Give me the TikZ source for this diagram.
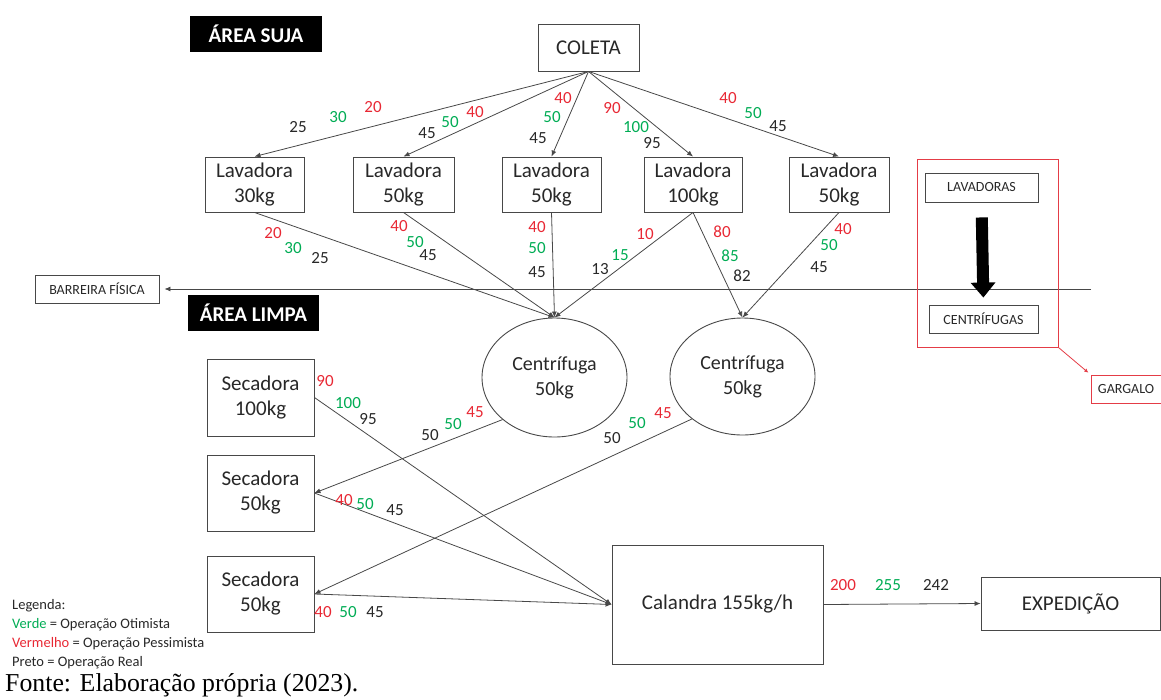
\documentclass[tikz,border=0pt]{standalone}
\usepackage{fontspec}
\setmainfont{Carlito}
\newfontfamily\captionface{Liberation Serif}
\usetikzlibrary{arrows.meta,shapes.geometric,calc}
\definecolor{pess}{RGB}{232,40,52}
\definecolor{otim}{RGB}{0,172,84}
\definecolor{real}{RGB}{40,40,40}
\definecolor{edge}{RGB}{72,72,72}
\definecolor{neck}{RGB}{228,60,70}
% a coloured flow figure placed by name at a fixed point
\newcommand\flowlbl[4]{\node[num,text=#3] (#1) at (#2) {#4};}
\begin{document}
\begin{tikzpicture}[x=1pt,y=-1pt,
  box/.style={draw=edge,line width=0.9pt,rectangle,align=center,
    font=\fontsize{21}{25}\selectfont,text=real,inner sep=0pt},
  drum/.style={draw=edge,line width=0.9pt,ellipse,align=center,
    font=\fontsize{20}{25}\selectfont,text=real,inner sep=0pt},
  tag/.style={draw=edge,line width=0.9pt,rectangle,
    font=\fontsize{14}{16}\selectfont,text=real,inner sep=0pt},
  zone/.style={fill=black,text=white,inner sep=0pt,
    font=\bfseries\fontsize{21}{24}\selectfont},
  flow/.style={draw=edge,line width=0.8pt,-{Latex[length=6pt,width=5pt]}},
  num/.style={font=\fontsize{17}{20}\selectfont,inner sep=0pt}]
\useasboundingbox (0,0) rectangle (1161,699);

% zone headers
\node[zone,minimum width=132pt,minimum height=36pt] (suja) at (256,34) {ÁREA SUJA};
\node[zone,minimum width=131pt,minimum height=36pt] (limpa) at (253.5,313) {ÁREA LIMPA};

% dirty area: collection and washers
\node[box,minimum width=101pt,minimum height=47pt] (col) at (588.5,47.5) {COLETA};
\node[box,minimum width=99pt,minimum height=55pt] (l1) at (254.5,184.5) {Lavadora\\30kg};
\node[box,minimum width=101pt,minimum height=55pt] (l2) at (403.5,184.5) {Lavadora\\50kg};
\node[box,minimum width=99pt,minimum height=55pt] (l3) at (551.5,184.5) {Lavadora\\50kg};
\node[box,minimum width=98pt,minimum height=55pt] (l4) at (693,184.5) {Lavadora\\100kg};
\node[box,minimum width=100pt,minimum height=55pt] (l5) at (839,184.5) {Lavadora\\50kg};

% clean area: centrifuges, dryers, ironer, dispatch
\node[drum,minimum width=145pt,minimum height=119pt] (c1) at (554.5,377.5) {Centrífuga\\50kg};
\node[drum,minimum width=145pt,minimum height=117pt] (c2) at (742.5,376.5) {Centrífuga\\50kg};
\node[box,minimum width=107pt,minimum height=77pt] (s1) at (260.5,397.5) {Secadora\\100kg};
\node[box,minimum width=107pt,minimum height=76pt] (s2) at (260.5,493) {Secadora\\50kg};
\node[box,minimum width=107pt,minimum height=76pt] (s3) at (260.5,594) {Secadora\\50kg};
\node[box,minimum width=211pt,minimum height=119pt] (cal) at (717.5,604.5) {Calandra 155kg/h};
\node[box,minimum width=179pt,minimum height=53pt] (exp) at (1070.5,603.5) {EXPEDIÇÃO};

% physical barrier
\node[tag,minimum width=124pt,minimum height=28pt] (bar) at (97,289) {BARREIRA FÍSICA};
\coordinate (barR) at (1091,289);
\draw[flow,shorten >=5pt] (barR) -- (barR -| bar.east);

% bottleneck inset
\node[draw=neck,line width=0.8pt,minimum width=141pt,minimum height=188pt,inner sep=0pt] (neckbox) at (987.5,253) {};
\node[tag,minimum width=113pt,minimum height=29pt] (lavs) at (981.5,187.5) {LAVADORAS};
\node[tag,minimum width=109pt,minimum height=28pt] (cens) at (983.5,319) {CENTRÍFUGAS};
\draw[line width=12pt,-{Triangle[width=24pt,length=15pt]},shorten <=15pt,shorten >=7pt]
  (lavs.south) -- (cens.north);
\node[draw=neck,line width=0.8pt,minimum width=70pt,minimum height=28pt,
  font=\fontsize{14}{16}\selectfont,text=real,inner sep=0pt] (garg) at (1126,389) {GARGALO};
\draw[draw=neck,line width=0.8pt,-{Latex[length=4pt,width=4pt]},shorten >=3pt]
  (neckbox.south east) -- (garg.north west);

% collection to washers
\draw[flow] (col.south) -- (l1.north);
\draw[flow] (col.south) -- (l2.north);
\draw[flow] (col.south) -- (l3.north);
\draw[flow] (col.south) -- (l4.north);
\draw[flow] (col.south) -- (l5.north);

% washers to centrifuges
\draw[flow] (l1.south) -- (c1.north);
\draw[flow] (l2.south) -- (c1.north);
\draw[flow] (l3.south) -- (c1.north);
\draw[flow] (l4.south) -- (c1.north);
\draw[flow] (l4.south) -- (c2.north);
\draw[flow] (l5.south) -- (c2.north);

% centrifuges to dryers, dryers to ironer
\draw[flow] (c1.219) -- (s2.east);
\draw[flow] (c2.220) -- (s3.east);
\draw[flow] (s1.east) -- (cal.west);
\draw[flow] (s2.east) -- (cal.west);
\draw[flow] (s3.east) -- (cal.west);
\draw[flow] (cal.east) -- (exp.west);

% flow figures: pessimistic, optimistic, real
\flowlbl{a1p}{373,107}{pess}{20}
\flowlbl{a1o}{338,117}{otim}{30}
\flowlbl{a1r}{298,127}{real}{25}
\flowlbl{a2p}{475,112}{pess}{40}
\flowlbl{a2o}{450,122}{otim}{50}
\flowlbl{a2r}{427,133}{real}{45}
\flowlbl{a3p}{563,98}{pess}{40}
\flowlbl{a3o}{552,117}{otim}{50}
\flowlbl{a3r}{538,138}{real}{45}
\flowlbl{a4p}{612,108}{pess}{90}
\flowlbl{a4o}{636,127}{otim}{100}
\flowlbl{a4r}{652,143}{real}{95}
\flowlbl{a5p}{728,98}{pess}{40}
\flowlbl{a5o}{753,113}{otim}{50}
\flowlbl{a5r}{778,126}{real}{45}

\flowlbl{b1p}{273,233}{pess}{20}
\flowlbl{b1o}{293,248}{otim}{30}
\flowlbl{b1r}{320,258}{real}{25}
\flowlbl{b2p}{399,226}{pess}{40}
\flowlbl{b2o}{415,242}{otim}{50}
\flowlbl{b2r}{428,255}{real}{45}
\flowlbl{b3p}{537,227}{pess}{40}
\flowlbl{b3o}{537,248}{otim}{50}
\flowlbl{b3r}{537,272}{real}{45}
\flowlbl{b4p}{645,234}{pess}{10}
\flowlbl{b4o}{620,255}{otim}{15}
\flowlbl{b4r}{600,269}{real}{13}
\flowlbl{b5p}{722,232}{pess}{80}
\flowlbl{b5o}{730,256}{otim}{85}
\flowlbl{b5r}{742,276}{real}{82}
\flowlbl{b6p}{843,229}{pess}{40}
\flowlbl{b6o}{829,245}{otim}{50}
\flowlbl{b6r}{819,267}{real}{45}

\flowlbl{d1p}{475,412}{pess}{45}
\flowlbl{d1o}{453,424}{otim}{50}
\flowlbl{d1r}{430,435}{real}{50}
\flowlbl{d2p}{663,413}{pess}{45}
\flowlbl{d2o}{637,423}{otim}{50}
\flowlbl{d2r}{612,438}{real}{50}

\flowlbl{e1p}{325,381}{pess}{90}
\flowlbl{e1o}{348,403}{otim}{100}
\flowlbl{e1r}{368,419}{real}{95}
\flowlbl{e2p}{344,500}{pess}{40}
\flowlbl{e2o}{365,504}{otim}{50}
\flowlbl{e2r}{395,510}{real}{45}
\flowlbl{e3p}{323,612}{pess}{40}
\flowlbl{e3o}{348,612}{otim}{50}
\flowlbl{e3r}{375,612}{real}{45}

\flowlbl{f1p}{843,585}{pess}{200}
\flowlbl{f1o}{888,585}{otim}{255}
\flowlbl{f1r}{936,585}{real}{242}

% colour key
\node[anchor=north west,align=left,inner sep=0pt,text=real,
  font=\fontsize{14.5}{19}\selectfont] (key) at (12,599)
  {Legenda:\\
   \textcolor{otim}{Verde} = Operação Otimista\\
   \textcolor{pess}{Vermelho} = Operação Pessimista\\
   Preto = Operação Real};

% source line
\node[anchor=base west,inner sep=0pt,font=\captionface\fontsize{25.8}{28}\selectfont] (src)
  at (5,691) {Fonte: Elaboração própria (2023).};
\end{tikzpicture}
\end{document}
